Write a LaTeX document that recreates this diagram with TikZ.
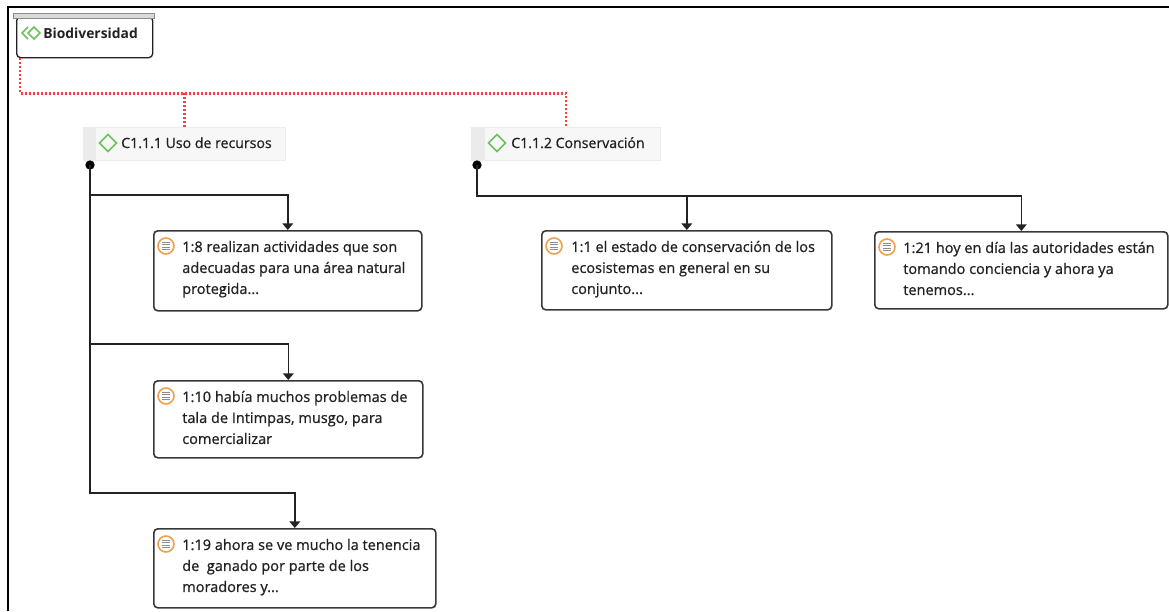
\documentclass[tikz,border=0pt]{standalone}
\usepackage{fontspec}
\setmainfont{Open Sans}
\newfontfamily\memofont{Open Sans}[BoldFont={Open Sans}, BoldFeatures={FakeBold=0.8}]
\usetikzlibrary{arrows.meta}
\definecolor{linkred}{HTML}{FF3B3B}
\definecolor{codegreen}{HTML}{6CC25A}
\definecolor{memoorange}{HTML}{F0A04B}
\definecolor{inkgray}{HTML}{222222}
\tikzset{
	groupbox/.style={draw=inkgray, line width=1pt, rounded corners=3pt, anchor=north west, inner sep=0pt},
	codebox/.style={fill=black!3, draw=black!8, line width=0.6pt, anchor=north west, inner sep=0pt},
	quotebox/.style={draw=inkgray!90, line width=1.2pt, rounded corners=3pt, anchor=north west, inner sep=0pt},
	qtext/.style={anchor=north west, inner sep=0pt, align=left, text=inkgray, font=\memofont\bfseries\fontsize{10.9}{15.75}\selectfont},
	ctext/.style={anchor=base west, inner sep=0pt, text=inkgray, font=\memofont\bfseries\fontsize{10.6}{12}\selectfont},
	dot/.style={circle, fill=black, inner sep=0pt, minimum size=7pt},
	link/.style={draw=inkgray, line width=1.2pt, -{Triangle[length=5pt,width=8pt]}},
	reddot/.style={draw=linkred, line width=1.8pt, dash pattern=on 1.5pt off 1.5pt}
}
% small icons
\newcommand{\codediamond}[2]{\draw[codegreen, line width=1.2pt] (#1,#2-8.5) -- (#1+8.5,#2) -- (#1,#2+8.5) -- (#1-8.5,#2) -- cycle;}
\newcommand{\memoicon}[1]{
	\begin{scope}[shift={(#1.north west)}]
		\draw[memoorange, line width=1.2pt, fill=white] (13,16) circle (8);
		\foreach \yy in {-3.6,-1.2,1.2,3.6}
			\draw[black!45, line width=0.6pt] (9,16+\yy) -- (17,16+\yy);
	\end{scope}}
\begin{document}
\begin{tikzpicture}[x=0.75pt, y=-0.75pt]
	\useasboundingbox (0,0) rectangle (1169,611);
	% frame
	\draw[black, line width=1.5pt] (8,611) -- (8,7) -- (1169,7);
	% group
	\node[groupbox, minimum width=102pt, minimum height=30.75pt] (bio) at (16,16) {};
	\draw[fill=black!15, draw=black!45, line width=0.6pt] (13,13) rectangle (154,18);
	\draw[codegreen, line width=1.2pt] (28,27) -- (22,33) -- (28,39);
	\draw[codegreen, line width=1.2pt] (34,27) -- (40,33) -- (34,39) -- (28,33) -- cycle;
	\node[ctext, font=\fontsize{10.4}{12}\selectfont\bfseries] (biot) at (43,38) {Biodiversidad};
	% codes
	\node[codebox, minimum width=151.5pt, minimum height=24.75pt] (c111) at (83,127) {};
	\fill[black!8] (c111.north west) rectangle ++(13,33);
	\codediamond{108}{143}
	\node[ctext] (c111t) at (121,148) {C1.1.1 Uso de recursos};
	\node[codebox, minimum width=141.75pt, minimum height=24.75pt] (c112) at (471,127) {};
	\fill[black!8] (c112.north west) rectangle ++(14,33);
	\codediamond{497}{143}
	\node[ctext] (c112t) at (511,148) {C1.1.2 Conservación};
	% links from the group
	\draw[reddot] ([xshift=3pt]bio.south west) -- ++(0,35) -| (c112.north);
	\draw[reddot] (c111.north) -- ++(0,-35);
	% quotations
	\node[quotebox, minimum width=201pt, minimum height=60pt] (q18) at (153,230) {};
	\node[quotebox, minimum width=201.75pt, minimum height=57.75pt] (q110) at (153,380) {};
	\node[quotebox, minimum width=211.5pt, minimum height=59.25pt] (q119) at (153,528) {};
	\node[quotebox, minimum width=217.5pt, minimum height=59.25pt] (q11) at (541,230) {};
	\node[quotebox, minimum width=219.75pt, minimum height=57.75pt] (q121) at (874,231) {};
	\memoicon{q18}
	\memoicon{q110}
	\memoicon{q119}
	\memoicon{q11}
	\memoicon{q121}
	\node[qtext] (q18t) at (182,237) {\strut 1:8 realizan actividades que son\\adecuadas para una área natural\\protegida...};
	\node[qtext] (q110t) at (182,387) {\strut 1:10 había muchos problemas de\\tala de Intimpas, musgo, para\\comercializar};
	\node[qtext] (q119t) at (182,535) {\strut 1:19 ahora se ve mucho la tenencia\\de\ \ ganado por parte de los\\moradores y...};
	\node[qtext] (q11t) at (571,237) {\strut 1:1 el estado de conservación de los\\ecosistemas en general en su\\conjunto...};
	\node[qtext] (q121t) at (903,238) {\strut 1:21 hoy en día las autoridades están\\tomando conciencia y ahora ya\\tenemos...};
	% links to quotations
	\node[dot] (d111) at (90,165) {};
	\node[dot] (d112) at (477,165) {};
	\draw[link] (d111.center) -- ++(0,30) -| (q18.north);
	\draw[link] (d111.center) -- ++(0,179) -| (q110.north);
	\draw[link] (d111.center) -- ++(0,328) -| (q119.north);
	\draw[link] (d112.center) -- ++(0,31) -| (q11.north);
	\draw[link] (d112.center) -- ++(0,31) -| (q121.north);
\end{tikzpicture}
\end{document}
